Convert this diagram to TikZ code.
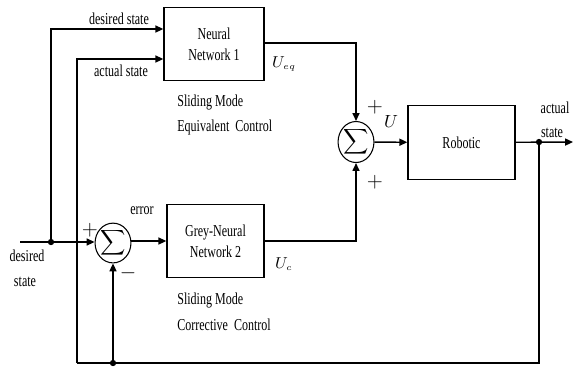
\documentclass[tikz,border=0pt]{standalone}
\usepackage{fontspec}
\setmainfont{Liberation Serif}[FakeStretch=0.72]
\usetikzlibrary{arrows.meta, positioning, shapes.geometric}

\begin{document}
\begin{tikzpicture}[
    x=0.02cm, y=-0.02cm,
    every node/.style={font=\fontsize{9.5}{10}\selectfont},
    block/.style={draw, line width=0.8pt, minimum width=#1, minimum height=1.47cm, inner sep=1pt, align=center},
    summer/.style={draw, ellipse, line width=0.6pt, inner sep=0pt, minimum width=0.63cm, minimum height=#1},
    sig/.style={draw, line width=0.8pt},
    arr/.style={-{Triangle[length=4.5pt, width=4pt]}, line width=0.8pt},
    dot/.style={circle, fill=black, inner sep=0pt, minimum size=3.6pt},
    lbl/.style={inner sep=0pt, align=left},
]
    \useasboundingbox (0,0) rectangle (573,370);

    % Blocks
    \node[block=2cm] (nnone) at (214,44) {Neural\\[2pt]Network 1};
    \node[block=1.94cm] (gnntwo) at (215.5,241) {Grey-Neural\\[2pt]Network 2};
    \node[block=2.14cm] (robot) at (461.5,142.5) {Robotic};
    \node[summer=0.82cm] (sumtop) at (356,142) {$\displaystyle\sum$};
    \node[summer=0.66cm] (sumbot) at (113,243) {$\displaystyle\sum$};

    % Junctions
    \node[dot] (jdes) at (51,242) {};
    \node[dot] (jout) at (539,142) {};
    \node[dot] (jfb) at (113,363) {};
    \coordinate (desin) at (20,242);
    \coordinate (outend) at (573,142);
    \coordinate (fbcorner) at (539,363);
    \coordinate (actcorner) at (77,363);

    % Connectors
    \draw[arr] (desin) -- (sumbot.west |- desin);
    \draw[arr] (jdes.center) |- ([yshift=0.3cm]nnone.west);
    \draw[arr] (actcorner) |- ([yshift=-0.3cm]nnone.west);
    \draw[arr] (nnone.east |- 0,43) -| (sumtop.north);
    \draw[arr] (gnntwo.east |- 0,241) -| (sumtop.south);
    \draw[arr] (sumbot.east |- 0,241) -- (gnntwo.west |- 0,241);
    \draw[arr] (sumtop) -- (robot);
    \draw[arr] (robot) -- (outend);
    \draw[sig] (jout.center) -- (fbcorner) -- (actcorner);
    \draw[arr] (jfb.center) -- (sumbot.south);

    % Labels
    \node[lbl] (tdes) at (119,19) {desired state};
    \node[lbl] (tact) at (121,71) {actual state};
    \node[lbl] (ueq) at (284,64) {$U_{\scriptscriptstyle eq}$};
    \node[lbl, anchor=west] (smone) at (177,102) {Sliding Mode};
    \node[lbl, anchor=west] (ecc) at (177,127) {Equivalent\ \ Control};
    \node[lbl] (pltop) at (375,107) {\fontsize{12}{12}\selectfont$+$};
    \node[lbl] (plbot) at (375,182) {\fontsize{12}{12}\selectfont$+$};
    \node[lbl] (uu) at (391,121) {\fontsize{10}{10}\selectfont$U$};
    \node[lbl] (toact) at (555,108) {actual};
    \node[lbl] (tost) at (552,133) {state};
    \node[lbl] (terr) at (142,211) {error};
    \node[lbl] (plerr) at (90,230) {\fontsize{12}{12}\selectfont$+$};
    \node[lbl] (mnerr) at (128,273) {\fontsize{12}{12}\selectfont$-$};
    \node[lbl] (tdin) at (27,256) {desired};
    \node[lbl] (tsin) at (25,282) {state};
    \node[lbl] (uc) at (284,264) {$U_{\scriptscriptstyle c}$};
    \node[lbl, anchor=west] (smtwo) at (177,300) {Sliding Mode};
    \node[lbl, anchor=west] (cc) at (177,325) {Corrective\ \ Control};
\end{tikzpicture}
\end{document}
